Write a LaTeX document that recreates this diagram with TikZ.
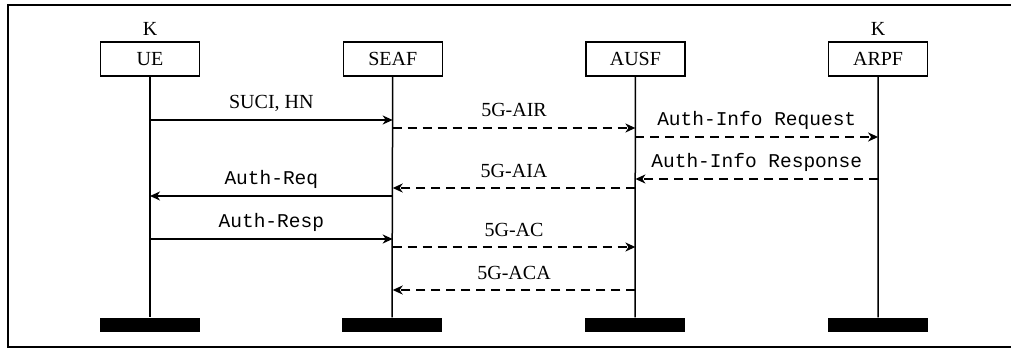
\documentclass[tikz,border=0pt]{standalone}
\usepackage{fontspec}
\setmainfont{Liberation Serif}
\setmonofont{Liberation Mono}
\usetikzlibrary{positioning,arrows.meta}

\begin{document}
\begin{tikzpicture}[x=1pt,y=-1pt,line width=1.5pt,node distance=242.7pt,
            >={Stealth[length=10pt,width=9pt,inset=3pt]},
            entity/.style={draw,line width=1.2pt,minimum width=99pt,minimum height=34pt,
                inner sep=0pt,font=\fontsize{20}{22}\selectfont},
            bar/.style={fill=black,minimum width=100pt,minimum height=14pt,inner sep=0pt},
            msg/.style={->},
            reply/.style={->,dash pattern=on 9pt off 6pt},
            txt/.style={font=\fontsize{20}{22}\selectfont,anchor=base,yshift=11pt,inner sep=0pt},
            code/.style={font=\ttfamily\fontsize{19.5}{21}\selectfont,anchor=base,yshift=12pt,inner sep=0pt}]

        \useasboundingbox (0,0) rectangle (1011,350);
        \draw[line width=1.4pt] (1020,5) -- (8,5) -- (8,347) -- (1020,347);

        % Define entities
        \node[entity] (ue) at (150,59) {UE};
        \node[entity] (seaf) [right of=ue] {SEAF};
        \node[entity] (ausf) [right of=seaf] {AUSF};
        \node[entity] (arpf) [right of=ausf] {ARPF};
        \node[font=\fontsize{20}{22}\selectfont,anchor=base] (kue) at (150,36) {K};
        \node[font=\fontsize{20}{22}\selectfont,anchor=base] (karpf) at (878,36) {K};

        % Bottom bars
        \node[bar] (ueend) at (150,325) {};
        \node[bar] (seafend) at (392,325) {};
        \node[bar] (ausfend) at (635,325) {};
        \node[bar] (arpfend) at (878,325) {};

        % Lifelines
        \foreach \e in {ue,seaf,ausf,arpf}
            \draw (\e.south) -- (\e end.north);

        % Draw messages
        \draw[msg] (ue |- 0,120) -- node[txt] {SUCI, HN} (seaf |- 0,120);
        \draw[reply] (seaf |- 0,128) -- node[txt] {5G-AIR} (ausf |- 0,128);
        \draw[reply] (ausf |- 0,137) -- node[code] {Auth-Info Request} (arpf |- 0,137);
        \draw[reply] (arpf |- 0,179) -- node[code] {Auth-Info Response} (ausf |- 0,179);
        \draw[reply] (ausf |- 0,188) -- node[txt] {5G-AIA} (seaf |- 0,188);
        \draw[msg] (seaf |- 0,196) -- node[code] {Auth-Req} (ue |- 0,196);
        \draw[msg] (ue |- 0,239) -- node[code] {Auth-Resp} (seaf |- 0,239);
        \draw[reply] (seaf |- 0,247) -- node[txt] {5G-AC} (ausf |- 0,247);
        \draw[reply] (ausf |- 0,290) -- node[txt] {5G-ACA} (seaf |- 0,290);

\end{tikzpicture}
\end{document}
